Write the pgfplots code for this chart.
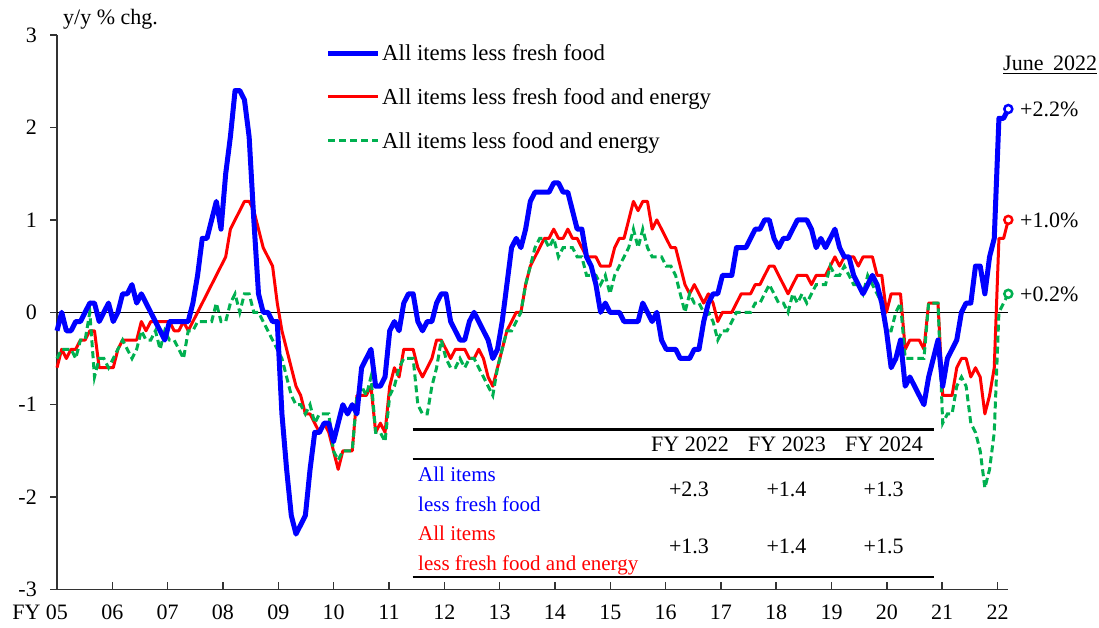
\documentclass[border=0pt]{standalone}
\usepackage{fontspec}
\setmainfont{Liberation Serif}
\usepackage{pgfplots}
\usepackage{pgfplotstable}
\pgfplotsset{compat=1.18}
\definecolor{cblue}{RGB}{0,0,255}
\definecolor{cred}{RGB}{255,0,0}
\definecolor{cgreen}{RGB}{0,176,80}

% monthly y/y % changes; b = less fresh food, r = less fresh food and energy, g = less food and energy
\pgfplotstableread{
b r g
-0.2 -0.6 -0.5
0.0 -0.4 -0.4
-0.2 -0.5 -0.4
-0.2 -0.4 -0.4
-0.1 -0.4 -0.5
-0.1 -0.3 -0.3
0.0 -0.3 -0.3
0.1 -0.2 0.0
0.1 -0.2 -0.7
-0.1 -0.6 -0.5
0.0 -0.6 -0.5
0.1 -0.6 -0.6
-0.1 -0.6 -0.5
0.0 -0.4 -0.4
0.2 -0.3 -0.3
0.2 -0.3 -0.4
0.3 -0.3 -0.5
0.1 -0.3 -0.4
0.2 -0.1 -0.2
0.1 -0.2 -0.3
0.0 -0.1 -0.3
-0.1 -0.1 -0.2
-0.2 -0.1 -0.4
-0.3 -0.1 -0.2
-0.1 -0.1 -0.3
-0.1 -0.2 -0.3
-0.1 -0.2 -0.4
-0.1 -0.1 -0.5
-0.1 -0.2 -0.2
0.1 -0.1 -0.2
0.4 0.0 -0.1
0.8 0.1 -0.1
0.8 0.2 -0.1
1.0 0.3 -0.1
1.2 0.4 0.1
0.9 0.5 -0.1
1.5 0.6 -0.1
1.9 0.9 0.1
2.4 1.0 0.2
2.4 1.1 0.0
2.3 1.2 0.2
1.9 1.2 0.2
1.0 1.1 0.0
0.2 0.9 0.0
0.0 0.7 -0.1
0.0 0.6 -0.2
-0.1 0.5 -0.3
-0.1 0.1 -0.4
-1.1 -0.2 -0.5
-1.7 -0.4 -0.7
-2.2 -0.6 -0.9
-2.4 -0.8 -1.0
-2.3 -0.9 -1.0
-2.2 -1.1 -1.1
-1.7 -1.1 -1.0
-1.3 -1.2 -1.2
-1.3 -1.3 -1.1
-1.2 -1.2 -1.1
-1.2 -1.3 -1.1
-1.4 -1.5 -1.5
-1.2 -1.7 -1.6
-1.0 -1.5 -1.5
-1.1 -1.5 -1.5
-1.0 -1.5 -1.5
-1.1 -0.9 -0.9
-0.6 -0.9 -0.8
-0.5 -0.9 -0.9
-0.4 -0.8 -0.7
-0.8 -1.3 -1.3
-0.8 -1.2 -1.3
-0.7 -1.3 -1.4
-0.2 -0.8 -0.9
-0.1 -0.6 -0.8
-0.2 -0.7 -0.6
0.1 -0.4 -0.5
0.2 -0.4 -0.5
0.2 -0.4 -0.5
-0.1 -0.6 -1.0
-0.2 -0.7 -1.1
-0.1 -0.6 -1.1
-0.1 -0.5 -0.8
0.1 -0.3 -0.6
0.2 -0.3 -0.3
0.2 -0.4 -0.5
-0.1 -0.5 -0.6
-0.2 -0.4 -0.6
-0.3 -0.4 -0.5
-0.3 -0.4 -0.6
-0.1 -0.5 -0.5
0.0 -0.5 -0.5
-0.1 -0.4 -0.6
-0.2 -0.5 -0.7
-0.3 -0.7 -0.8
-0.5 -0.8 -0.9
-0.4 -0.6 -0.6
-0.1 -0.4 -0.4
0.3 -0.2 -0.2
0.7 -0.1 -0.2
0.8 0.0 -0.1
0.7 0.0 0.0
0.9 0.3 0.3
1.2 0.5 0.5
1.3 0.6 0.7
1.3 0.7 0.8
1.3 0.8 0.8
1.3 0.8 0.7
1.4 0.9 0.8
1.4 0.8 0.6
1.3 0.8 0.7
1.3 0.9 0.7
1.1 0.8 0.7
0.9 0.8 0.6
0.9 0.7 0.6
0.6 0.6 0.4
0.5 0.6 0.4
0.3 0.6 0.4
0.0 0.5 0.3
0.1 0.5 0.4
0.0 0.5 0.2
0.0 0.7 0.4
0.0 0.8 0.5
-0.1 0.8 0.6
-0.1 1.0 0.7
-0.1 1.2 0.9
-0.1 1.1 0.7
0.1 1.2 0.9
0.0 1.2 0.7
-0.1 0.9 0.6
0.0 1.0 0.6
-0.3 0.9 0.6
-0.4 0.8 0.5
-0.4 0.7 0.5
-0.4 0.7 0.4
-0.5 0.5 0.2
-0.5 0.3 0.0
-0.5 0.2 0.2
-0.4 0.3 0.1
-0.4 0.2 0.1
-0.1 0.1 0.0
0.1 0.2 0.0
0.2 0.1 -0.1
0.2 -0.1 -0.3
0.4 0.0 -0.2
0.4 0.0 -0.2
0.4 0.0 -0.1
0.7 0.1 0.0
0.7 0.2 0.0
0.7 0.2 0.0
0.8 0.2 0.0
0.9 0.3 0.1
0.9 0.3 0.1
1.0 0.4 0.2
1.0 0.5 0.3
0.8 0.5 0.2
0.7 0.4 0.1
0.8 0.3 0.1
0.8 0.2 0.0
0.9 0.3 0.2
1.0 0.4 0.1
1.0 0.4 0.2
1.0 0.4 0.1
0.9 0.3 0.2
0.7 0.4 0.3
0.8 0.4 0.3
0.7 0.4 0.3
0.8 0.5 0.5
0.9 0.6 0.4
0.7 0.5 0.4
0.6 0.6 0.5
0.6 0.6 0.4
0.4 0.6 0.3
0.3 0.5 0.3
0.2 0.6 0.2
0.3 0.6 0.4
0.4 0.6 0.3
0.3 0.4 0.2
0.1 0.4 0.1
-0.2 0.0 -0.2
-0.6 0.2 -0.2
-0.5 0.2 0.0
-0.3 0.2 0.1
-0.8 -0.4 -0.5
-0.7 -0.3 -0.5
-0.8 -0.3 -0.5
-0.9 -0.3 -0.5
-1.0 -0.4 -0.5
-0.7 0.1 0.1
-0.5 0.1 0.1
-0.3 0.1 0.1
-0.8 -0.9 -1.2
-0.5 -0.9 -1.1
-0.4 -0.9 -1.1
-0.3 -0.6 -0.8
0.0 -0.5 -0.7
0.1 -0.5 -0.8
0.1 -0.7 -1.2
0.5 -0.6 -1.3
0.5 -0.7 -1.5
0.2 -1.1 -1.9
0.6 -0.9 -1.7
0.8 -0.6 -1.3
2.1 0.8 0.0
2.1 0.8 0.1
2.2 1.0 0.2
}\cpidata

\begin{document}
\begin{tikzpicture}[font=\fontsize{22bp}{26bp}\selectfont]
\path[use as bounding box] (-57bp,-38.5bp) rectangle (1042bp,589.5bp);
\begin{axis}[
  at={(0,0)}, anchor=south west,
  scale only axis, width=951.3bp, height=554.4bp,
  xmin=0, xmax=203, ymin=-3, ymax=3,
  axis x line=bottom, axis y line=left,
  axis line style={-, black!80, line width=1.8bp},
  xtick={0,11.806,23.612,35.418,47.224,59.03,70.836,82.642,94.448,106.254,118.06,129.866,141.672,153.478,165.284,177.09,188.896,200.702},
  xticklabels={{\llap{FY\ }05},06,07,08,09,10,11,12,13,14,15,16,17,18,19,20,21,22},
  ytick={-3,-2,-1,0,1,2,3},
  yticklabels={-3,-2,-1,0,1,2,3},
  xtick align=inside, ytick align=outside,
  major tick length=7bp,
  tick style={black!80, line width=1.5bp},
  xticklabel style={anchor=base, inner sep=0pt, yshift=-29.5bp},
  yticklabel style={anchor=east, inner sep=0pt, xshift=-13bp},
  clip=false,
]
\addplot[black, line width=1.2bp] coordinates {(0,0) (203,0)};
\addplot[cred, line width=3bp, line join=round] table[x expr=\coordindex, y=r] {\cpidata};
\addplot[cgreen, line width=3bp, dash pattern=on 7bp off 4bp] table[x expr=\coordindex, y=g] {\cpidata};
\addplot[cblue, line width=5bp, line join=round] table[x expr=\coordindex, y=b] {\cpidata};
\addplot[only marks, mark=*, mark size=4bp, mark options={draw=cblue, fill=white, line width=2.5bp}] coordinates {(203,2.2)};
\addplot[only marks, mark=*, mark size=4bp, mark options={draw=cred, fill=white, line width=2.5bp}] coordinates {(203,1.0)};
\addplot[only marks, mark=*, mark size=4bp, mark options={draw=cgreen, fill=white, line width=2.5bp}] coordinates {(203,0.2)};
\node[anchor=base west, inner sep=0pt, xshift=11.7bp, yshift=-7.3bp] at (axis cs:203,2.2) {+2.2\%};
\node[anchor=base west, inner sep=0pt, xshift=11.7bp, yshift=-7.3bp] at (axis cs:203,1.0) {+1.0\%};
\node[anchor=base west, inner sep=0pt, xshift=11.7bp, yshift=-7.3bp] at (axis cs:203,0.2) {+0.2\%};
\end{axis}
% axis label
\node[anchor=base west, inner sep=0pt] at (6bp,564.5bp) {y/y \% chg.};
% June 2022
\node[anchor=base west, inner sep=0pt] (jn) at (946bp,518.8bp) {June\hspace{9.7bp}2022};
\draw[black, line width=1.3bp] (jn.base west) ++(0,-2.6bp) -- ++(94bp,0);
% legend
\begin{scope}[font=\fontsize{22.8bp}{27bp}\selectfont]
\draw[cblue, line width=5bp] (271bp,536.2bp) -- (321bp,536.2bp);
\node[anchor=base west, inner sep=0pt] at (325bp,528.5bp) {All items less fresh food};
\draw[cred, line width=3bp] (271bp,492.8bp) -- (321bp,492.8bp);
\node[anchor=base west, inner sep=0pt] at (325bp,485.1bp) {All items less fresh food and energy};
\draw[cgreen, line width=3bp, dash pattern=on 7bp off 4bp] (271bp,448.5bp) -- (321bp,448.5bp);
\node[anchor=base west, inner sep=0pt] at (325bp,440.8bp) {All items less food and energy};
\end{scope}
% table
\draw[black, line width=2.5bp] (355.6bp,159.9bp) -- (876.6bp,159.9bp);
\draw[black, line width=2.5bp] (355.6bp,130.5bp) -- (876.6bp,130.5bp);
\draw[black, line width=2.5bp] (355.6bp,12.5bp) -- (876.6bp,12.5bp);
\node[anchor=base, inner sep=0pt] at (633bp,137.8bp) {FY 2022};
\node[anchor=base, inner sep=0pt] at (730bp,137.8bp) {FY 2023};
\node[anchor=base, inner sep=0pt] at (827bp,137.8bp) {FY 2024};
\begin{scope}[font=\fontsize{21bp}{25bp}\selectfont]
\node[anchor=base west, inner sep=0pt, text=cblue] at (361bp,107.5bp) {All items};
\node[anchor=base west, inner sep=0pt, text=cblue] at (361bp,78.2bp) {less fresh food};
\node[anchor=base west, inner sep=0pt, text=cred] at (361bp,48.5bp) {All items};
\node[anchor=base west, inner sep=0pt, text=cred] at (361bp,19bp) {less fresh food and energy};
\end{scope}
\node[anchor=base, inner sep=0pt] at (632bp,93.1bp) {+2.3};
\node[anchor=base, inner sep=0pt] at (729.5bp,93.1bp) {+1.4};
\node[anchor=base, inner sep=0pt] at (826.6bp,93.1bp) {+1.3};
\node[anchor=base, inner sep=0pt] at (632bp,35.9bp) {+1.3};
\node[anchor=base, inner sep=0pt] at (729.5bp,35.9bp) {+1.4};
\node[anchor=base, inner sep=0pt] at (826.6bp,35.9bp) {+1.5};
\end{tikzpicture}
\end{document}
